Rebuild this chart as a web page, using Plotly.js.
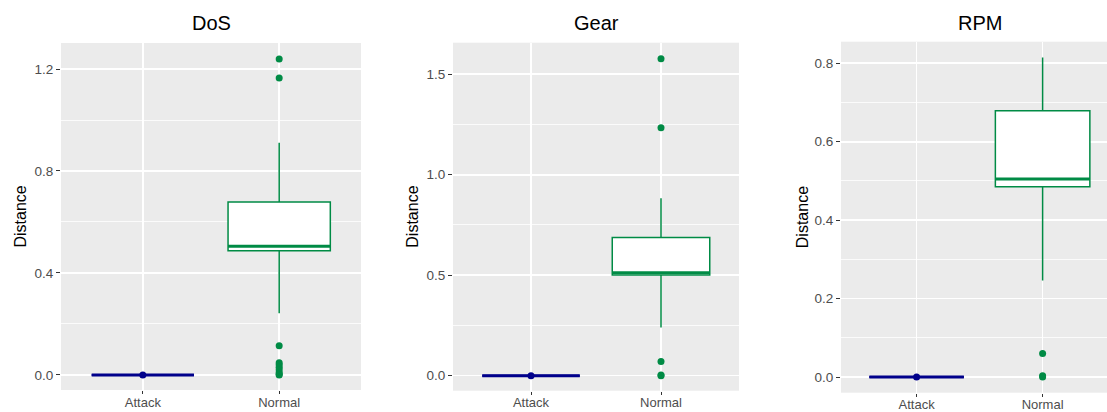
<!DOCTYPE html>
<html>
<head>
<meta charset="utf-8">
<script src="https://cdn.plot.ly/plotly-3.0.1.min.js"></script>
<style>html,body{margin:0;padding:0;background:#fff}#chart{width:1107px;height:412px}</style>
</head>
<body>
<div id="chart"></div>
<script>
// ---- data ----
const categories = ['Attack', 'Normal'];
const panelTitles = ['DoS', 'Gear', 'RPM'];

// per-panel box statistics: [Attack, Normal]
const dosQ1 = [0, 0.487], dosMedian = [0, 0.505], dosQ3 = [0, 0.678], dosLower = [0, 0.242], dosUpper = [0, 0.911];
const gearQ1 = [0, 0.501], gearMedian = [0, 0.512], gearQ3 = [0, 0.687], gearLower = [0, 0.239], gearUpper = [0, 0.883];
const rpmQ1 = [0, 0.485], rpmMedian = [0, 0.505], rpmQ3 = [0, 0.679], rpmLower = [0, 0.246], rpmUpper = [0, 0.815];

// outliers
const dosOutAttack = [0];
const dosOutNormal = [1.239, 1.165, 0.115, 0.048, 0.040, 0.030, 0.020, 0.010, 0.003, 0];
const gearOutAttack = [0];
const gearOutNormal = [1.577, 1.234, 0.070, 0.003, 0];
const rpmOutAttack = [0];
const rpmOutNormal = [0.060, 0.003, 0];

const yTickStep = [0.4, 0.5, 0.2];
const yRanges = [[-0.059, 1.302], [-0.075, 1.657], [-0.040, 0.855]];

// ---- styling ----
const colors = ['#00008B', '#008B45'];
const W = 1107, H = 412;
const px = [[61, 361], [453, 739], [841, 1107]];
const py = [[43, 390], [42.7, 390.7], [41.7, 392.7]];
const titleX = [211, 596, 980];
const ytitleX = [20, 413, 802];
const xRanges = [[0.4, 2.6], [0.4, 2.6], [0.4, 2.511]];
const boxW = 0.75;

const stats = [
  {q1: dosQ1, med: dosMedian, q3: dosQ3, lo: dosLower, hi: dosUpper, out: [dosOutAttack, dosOutNormal]},
  {q1: gearQ1, med: gearMedian, q3: gearQ3, lo: gearLower, hi: gearUpper, out: [gearOutAttack, gearOutNormal]},
  {q1: rpmQ1, med: rpmMedian, q3: rpmQ3, lo: rpmLower, hi: rpmUpper, out: [rpmOutAttack, rpmOutNormal]}
];

const traces = [];
const layout = {
  width: W, height: H,
  margin: {l: 0, r: 0, t: 0, b: 0},
  paper_bgcolor: '#ffffff',
  plot_bgcolor: '#EBEBEB',
  showlegend: false,
  font: {family: 'Liberation Sans, Arial, sans-serif', color: '#4D4D4D', size: 13},
  annotations: []
};

stats.forEach((s, p) => {
  const ax = p === 0 ? '' : String(p + 1);
  const xa = 'x' + ax, ya = 'y' + ax;
  categories.forEach((c, i) => {
    const pos = i + 1;
    traces.push({
      type: 'box', xaxis: xa, yaxis: ya,
      x: [pos], q1: [s.q1[i]], median: [s.med[i]], q3: [s.q3[i]],
      lowerfence: [s.lo[i]], upperfence: [s.hi[i]],
      width: boxW, whiskerwidth: 0,
      fillcolor: '#ffffff',
      line: {color: colors[i], width: i === 0 ? 2 : 1.5},
      hoverinfo: 'skip', boxpoints: false
    });
    // thicker median line
    traces.push({
      type: 'scatter', mode: 'lines', xaxis: xa, yaxis: ya,
      x: [pos - boxW / 2, pos + boxW / 2], y: [s.med[i], s.med[i]],
      line: {color: colors[i], width: 3}, hoverinfo: 'skip'
    });
    traces.push({
      type: 'scatter', mode: 'markers', xaxis: xa, yaxis: ya,
      x: s.out[i].map(() => pos), y: s.out[i],
      marker: {color: colors[i], size: 7}, hoverinfo: 'skip', cliponaxis: false
    });
  });

  layout['xaxis' + ax] = {
    domain: [px[p][0] / W, px[p][1] / W],
    range: xRanges[p], anchor: ya,
    tickvals: [1, 2], ticktext: categories,
    ticks: 'outside', ticklen: 3, tickcolor: '#333333', tickwidth: 1,
    ticklabelstandoff: -3,
    showgrid: true, gridcolor: '#ffffff', gridwidth: 1.6,
    zeroline: false, showline: false, fixedrange: true,
    tickfont: {size: 13, color: '#4D4D4D'}
  };
  layout['yaxis' + ax] = {
    domain: [(H - py[p][1]) / H, (H - py[p][0]) / H],
    range: yRanges[p], anchor: xa,
    tick0: 0, dtick: yTickStep[p], tickformat: '.1f',
    ticks: 'outside', ticklen: 4, tickcolor: '#333333', tickwidth: 1,
    showgrid: true, gridcolor: '#ffffff', gridwidth: 1.6,
    minor: {dtick: yTickStep[p] / 2, tick0: 0, showgrid: true, gridcolor: '#ffffff', gridwidth: 0.8, ticks: ''},
    zeroline: false, showline: false, fixedrange: true,
    tickfont: {size: 13.5, color: '#4D4D4D'}
  };
  layout.annotations.push({
    text: panelTitles[p], xref: 'paper', yref: 'paper',
    x: titleX[p] / W, y: 1 - 23 / H, xanchor: 'center', yanchor: 'middle',
    showarrow: false, font: {size: 20, color: '#000000'}
  });
  layout.annotations.push({
    text: 'Distance', xref: 'paper', yref: 'paper', textangle: -90,
    x: ytitleX[p] / W, y: 1 - ((py[p][0] + py[p][1]) / 2) / H,
    xanchor: 'center', yanchor: 'middle',
    showarrow: false, font: {size: 16, color: '#000000'}
  });
});

Plotly.newPlot('chart', traces, layout, {staticPlot: true, displayModeBar: false});
</script>
</body>
</html>
